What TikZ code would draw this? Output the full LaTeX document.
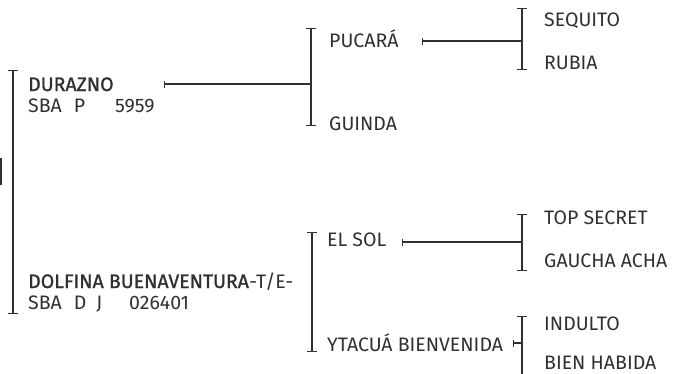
\documentclass[tikz,border=0pt]{standalone}
\usepackage{fontspec}
\setmainfont{Fira Sans}
\newfontfamily\medfont{Fira Sans}[FakeBold=1.2]
\usetikzlibrary{arrows.meta}
\definecolor{ink}{HTML}{303030}
\tikzset{
  lbl/.style={anchor=base west, inner sep=0pt, text=ink, font=\fontsize{19.5}{21}\selectfont},
  brk/.style={draw=ink, line width=1.2pt, {Bar[width=10pt,line width=1.2pt]}-{Bar[width=10pt,line width=1.2pt]}},
  brkopen/.style={draw=ink, line width=1.2pt, {Bar[width=10pt,line width=1.2pt]}-},
  conn/.style={draw=ink, line width=1.2pt, {Bar[width=7pt,line width=1.2pt]}-},
  plain/.style={draw=ink, line width=1.2pt}
}
\begin{document}
\begin{tikzpicture}[x=1pt,y=-1pt]
\useasboundingbox (0,0) rectangle (674,373);
% stub at left edge
\coordinate (s1) at (1,158);
\coordinate (s2) at (1,185);
\draw[plain, line width=2pt] (s1) -- (s2);
% main bracket
\coordinate (b0t) at (13,70);
\coordinate (b0b) at (13,314);
\draw[brk] (b0t) -- (b0b);
% left texts
\node[lbl] (dur) at (28,91) {\medfont DURAZNO};
\node[lbl] (dursba) at (28,112) {SBA\hspace{12pt}P\hspace{30pt}5959};
\node[lbl] (dol) at (28,288) {\medfont DOLFINA BUENAVENTURA}; 
\node[lbl] (dolte) at (dol.base east) {-T/E-};
\node[lbl] (dolsba) at (28,309) {SBA\hspace{12pt}D\hspace{10pt}J\hspace{27pt}026401};
% DURAZNO connector and bracket 1
\coordinate (cdur) at (164,84);
\coordinate (b1m) at (311,84);
\coordinate (b1t) at (311,28);
\coordinate (b1b) at (311,126);
\draw[conn] (cdur) -- (b1m);
\draw[brk] (b1t) -- (b1b);
\node[lbl] (puc) at (329,47) {PUCARÁ};
\node[lbl] (gui) at (329,130) {GUINDA};
% PUCARA connector and bracket 2
\coordinate (cpuc) at (422,41);
\coordinate (b2m) at (522,41);
\coordinate (b2t) at (522,8);
\coordinate (b2b) at (522,70);
\draw[conn] (cpuc) -- (b2m);
\draw[brk] (b2t) -- (b2b);
\node[lbl] (seq) at (544,26) {SEQUITO};
\node[lbl] (rub) at (544,69) {RUBIA};
% lower bracket
\coordinate (b3t) at (312,232);
\coordinate (b3b) at (312,352);
\draw[brk] (b3t) -- (b3b);
\node[lbl] (sol) at (327,246) {EL SOL};
\node[lbl] (yta) at (327,351) {YTACUÁ BIENVENIDA};
% EL SOL connector and bracket
\coordinate (csol) at (402,242);
\coordinate (b4m) at (522,242);
\coordinate (b4t) at (522,214);
\coordinate (b4b) at (522,271);
\draw[conn] (csol) -- (b4m);
\draw[brk] (b4t) -- (b4b);
\node[lbl] (top) at (544,224) {TOP SECRET};
\node[lbl] (gau) at (544,267) {GAUCHA ACHA};
% YTACUA connector and bracket
\coordinate (cyta) at (513,343);
\coordinate (b5m) at (522,343);
\coordinate (b5t) at (522,316);
\coordinate (b5b) at (522,380);
\draw[conn] (cyta) -- (b5m);
\draw[brkopen] (b5t) -- (b5b);
\node[lbl] (ind) at (544,330) {INDULTO};
\node[lbl] (bie) at (544,369) {BIEN HABIDA};
\end{tikzpicture}
\end{document}
